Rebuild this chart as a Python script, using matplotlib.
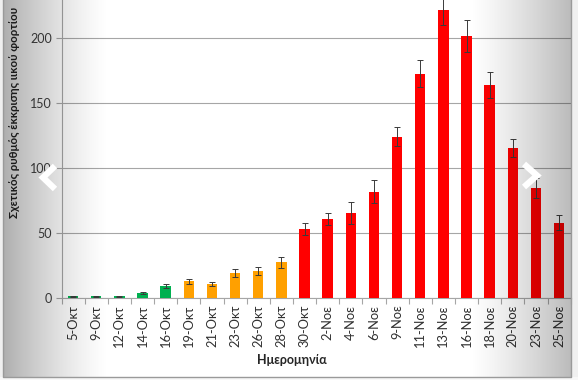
import numpy as np
import matplotlib
matplotlib.use("Agg")
import matplotlib.pyplot as plt
from matplotlib.lines import Line2D

dates = ["5-Οκτ", "9-Οκτ", "12-Οκτ", "14-Οκτ", "16-Οκτ", "19-Οκτ", "21-Οκτ",
         "23-Οκτ", "26-Οκτ", "28-Οκτ", "30-Οκτ", "2-Νοε", "4-Νοε", "6-Νοε",
         "9-Νοε", "11-Νοε", "13-Νοε", "16-Νοε", "18-Νοε", "20-Νοε", "23-Νοε", "25-Νοε"]
values = [1.2, 1.0, 1.0, 3.5, 9.0, 12.5, 10.5, 19.2, 20.5, 27.2, 52.8, 60.3,
          64.9, 81.5, 123.8, 172.3, 221.0, 201.5, 163.6, 114.9, 84.2, 57.7]
errors = [0.4, 0.3, 0.3, 0.7, 1.8, 1.8, 1.6, 3.0, 3.3, 4.4, 4.6, 4.6,
          8.5, 9.0, 7.2, 10.3, 11.0, 12.3, 9.8, 6.9, 7.7, 5.7]
groups = ["g"] * 5 + ["o"] * 5 + ["r"] * 12
group_colors = {"g": "#00B050", "o": "#FFA000", "r": "#FF0000"}
yticks = [0, 50, 100, 150, 200]

W, H = 578, 380
fig = plt.figure(figsize=(W / 100, H / 100), dpi=100)
fig.patch.set_facecolor("white")
font = ["Lato", "DejaVu Sans"]

# plot area in pixel coords
px_left, px_right = 61.5, 570.7
px_zero, px_per_unit = 297.7, 1.3
ytop = 250
ax = fig.add_axes([px_left / W, (H - px_zero) / H,
                   (px_right - px_left) / W, ytop * px_per_unit / H])
ax.patch.set_alpha(0)

x = np.arange(len(dates))
colors = [group_colors[g] for g in groups]
ax.bar(x, values, width=0.45, color=colors, zorder=3)
ax.errorbar(x, values, yerr=errors, fmt="none", ecolor="#3a3a3a",
            elinewidth=0.7, capsize=2, capthick=0.7, zorder=4)

ax.set_xlim(-0.5, len(dates) - 0.5)
ax.set_ylim(0, ytop)
ax.set_yticks(yticks)
ax.set_yticklabels([str(v) for v in yticks], fontsize=9, color="#404040", family=font)
ax.yaxis.grid(True, color="#A6A6A6", linewidth=0.8, zorder=0)
ax.set_axisbelow(True)

ax.set_xticks(x)
ax.set_xticklabels(dates, rotation=90, fontsize=9.3, color="#303030", family=font)
ax.set_xticks(np.arange(-0.5, len(dates), 1.0), minor=True)
ax.tick_params(axis="x", which="major", length=0, pad=5)
ax.tick_params(axis="x", which="minor", length=4, color="#A6A6A6", width=0.8)
ax.tick_params(axis="y", length=4, color="#A6A6A6", width=0.8, pad=3)
for s in ["top", "right"]:
    ax.spines[s].set_visible(False)
ax.spines["left"].set_color("#A6A6A6")
ax.spines["left"].set_linewidth(0.8)
ax.spines["bottom"].set_color("#A6A6A6")
ax.spines["bottom"].set_linewidth(0.8)

fig.text(15 / W, 1 - 112 / H, "Σχετικός ρυθμός έκκρισης ιικού φορτίου",
         rotation=90, ha="center", va="center", fontsize=8.3,
         fontweight="bold", color="#262626", family=font)
fig.text(292 / W, 1 - 360 / H, "Ημερομηνία", ha="center", va="center",
         fontsize=9, fontweight="bold", color="#262626", family=font)

# screenshot shading overlay (gray gradients on both sides)
ov = fig.add_axes([0, 0, 1, 1], zorder=10)
ov.set_xlim(0, W)
ov.set_ylim(H, 0)
ov.axis("off")
xs = np.arange(W) + 0.5
alpha = np.zeros(W)
left_mask = xs < 110
alpha[left_mask] = 0.32 * ((110 - xs[left_mask]) / 107) ** 1.3
right_mask = xs > 470
alpha[right_mask] = 0.27 * ((xs[right_mask] - 470) / 101) ** 1.2
alpha = np.clip(alpha, 0, 0.33)
alpha[(xs < 3.3) | (xs > 571)] = 0.06
img = np.zeros((H, W, 4))
img[..., 3] = alpha[None, :]
img[377:, :, 3] = 0.03
ov.imshow(img, extent=(0, W, H, 0), aspect="auto", interpolation="bilinear")

# frame
ov.add_line(Line2D([3.3, 3.3, 571, 571], [0, 377, 377, 0], color="#9a9a9a", lw=1.0))

# carousel chevrons
ov.add_line(Line2D([55, 43, 55], [166, 177.5, 189], color="white", lw=4.5,
                   solid_capstyle="butt", solid_joinstyle="miter"))
ov.add_line(Line2D([524, 537, 524], [164, 175.5, 187], color="white", lw=4.5,
                   solid_capstyle="butt", solid_joinstyle="miter"))

fig.savefig("out.png", dpi=100)
